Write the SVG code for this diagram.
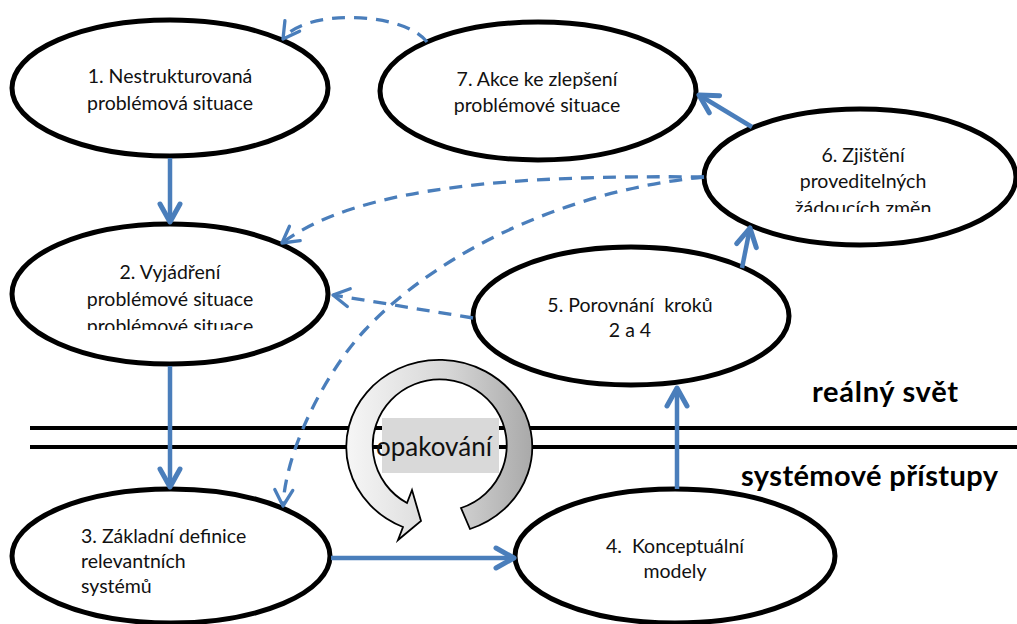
<svg xmlns="http://www.w3.org/2000/svg" width="1017" height="624" viewBox="0 0 1017 624">
  <style>
    .node { fill: #ffffff; stroke: #000000; stroke-width: 5; }
    .lbl { font-family: Lato, "Liberation Sans", sans-serif; font-size: 19.5px; fill: #111111; }
    .mid { text-anchor: middle; }
    .zone { font-family: Lato, "Liberation Sans", sans-serif; font-size: 29px; font-weight: bold; fill: #000000; }
    .flow { fill: none; stroke: #4a7ebb; stroke-width: 4.5; marker-end: url(#chev); }
    .fb { fill: none; stroke: #4a7ebb; stroke-width: 3.3; stroke-dasharray: 13 9; marker-end: url(#chevThin); }
    .rule { stroke: #000000; stroke-width: 4; }
  </style>
  <defs>
    <marker id="chev" markerUnits="userSpaceOnUse" viewBox="-24 -14 28 28" markerWidth="28" markerHeight="28" refX="0" refY="0" orient="auto" overflow="visible">
      <path d="M -18 -10 L 0 0 L -18 10" fill="none" stroke="#4a7ebb" stroke-width="5" stroke-linecap="round" stroke-linejoin="round"/>
    </marker>
    <marker id="chevThin" markerUnits="userSpaceOnUse" viewBox="-20 -12 24 24" markerWidth="24" markerHeight="24" refX="0" refY="0" orient="auto" overflow="visible">
      <path d="M -16 -9 L 0 0 L -16 9" fill="none" stroke="#4a7ebb" stroke-width="3.3" stroke-linecap="round" stroke-linejoin="round"/>
    </marker>
    <linearGradient id="ringFill" x1="0" y1="0" x2="1" y2="0">
      <stop offset="0" stop-color="#f6f6f6"/>
      <stop offset="0.55" stop-color="#d6d6d6"/>
      <stop offset="1" stop-color="#a9a9a9"/>
    </linearGradient>
    <clipPath id="clip2"><rect x="0" y="0" width="1017" height="330"/></clipPath>
    <clipPath id="clip6"><rect x="0" y="0" width="1017" height="212"/></clipPath>
  </defs>

  <!-- boundary between the real world and systems thinking -->
  <g id="boundary">
    <line class="rule" x1="30" y1="428" x2="1017" y2="428"/>
    <line class="rule" x1="30" y1="447" x2="1017" y2="447"/>
    <text class="zone" x="812" y="402" textLength="146" lengthAdjust="spacing">reálný svět</text>
    <text class="zone" x="741" y="486" textLength="257" lengthAdjust="spacing">systémové přístupy</text>
  </g>

  <!-- iteration loop -->
  <g id="loop">
    <path d="M 470 529 A 93 87 0 1 0 403 527 L 398 540 L 421 521 L 412 490 L 407 503 A 67 66 0 1 1 461 508 Z" fill="url(#ringFill)" stroke="#000000" stroke-width="1.8" stroke-linejoin="miter"/>
    <rect x="382" y="418" width="117" height="55" fill="#d9d9d9"/>
    <text x="376" y="456" font-family="Lato, 'Liberation Sans', sans-serif" font-size="26" fill="#111111">opakování</text>
  </g>

  <g id="n1">
    <ellipse class="node" cx="170" cy="88" rx="158" ry="68"/>
    <text class="lbl mid" x="170" y="83">1. Nestrukturovaná</text>
    <text class="lbl mid" x="170" y="110">problémová situace</text>
  </g>

  <g id="n7">
    <ellipse class="node" cx="538" cy="91" rx="158" ry="69"/>
    <text class="lbl mid" x="537" y="86">7. Akce ke zlepšení</text>
    <text class="lbl mid" x="537" y="112">problémové situace</text>
  </g>

  <g id="n6">
    <ellipse class="node" cx="860" cy="177" rx="156" ry="68"/>
    <text class="lbl mid" x="863" y="162">6. Zjištění</text>
    <text class="lbl mid" x="863" y="188">proveditelných</text>
    <text class="lbl mid" x="863" y="215" clip-path="url(#clip6)">žádoucích změn</text>
  </g>

  <g id="n2">
    <ellipse class="node" cx="170" cy="294" rx="158" ry="70"/>
    <text class="lbl mid" x="170" y="279">2. Vyjádření</text>
    <text class="lbl mid" x="170" y="306">problémové situace</text>
    <text class="lbl mid" x="170" y="333" clip-path="url(#clip2)">problémové situace</text>
  </g>

  <g id="n5">
    <ellipse class="node" cx="631" cy="316" rx="158" ry="69"/>
    <text class="lbl mid" x="630" y="312" xml:space="preserve">5. Porovnání  kroků</text>
    <text class="lbl mid" x="630" y="337">2 a 4</text>
  </g>

  <g id="n3">
    <ellipse class="node" cx="171" cy="556" rx="159" ry="67"/>
    <text class="lbl" x="81" y="543">3. Základní definice</text>
    <text class="lbl" x="81" y="568">relevantních</text>
    <text class="lbl" x="81" y="593">systémů</text>
  </g>

  <g id="n4">
    <ellipse class="node" cx="675" cy="556" rx="160" ry="67"/>
    <text class="lbl mid" x="675" y="553" xml:space="preserve">4.  Konceptuální</text>
    <text class="lbl mid" x="675" y="578">modely</text>
  </g>

  <g id="connectors">
    <!-- main sequence -->
    <line class="flow" x1="170" y1="158" x2="170" y2="222"/>
    <line class="flow" x1="170" y1="366" x2="170" y2="487"/>
    <line class="flow" x1="331" y1="558" x2="514" y2="558"/>
    <line class="flow" x1="677" y1="489" x2="677" y2="388"/>
    <line class="flow" x1="742" y1="268" x2="750" y2="228"/>
    <line class="flow" x1="752" y1="127" x2="699" y2="95"/>
    <!-- feedback paths -->
    <path class="fb" d="M 427 42 C 405 12, 305 8, 283 39"/>
    <path class="fb" d="M 704 177 C 520 175, 360 185, 282 243"/>
    <path class="fb" d="M 704 177 C 570 190, 440 250, 365 330 C 330 367, 286 445, 283 506"/>
    <path class="fb" d="M 473 318 L 333 295"/>
  </g>
</svg>
